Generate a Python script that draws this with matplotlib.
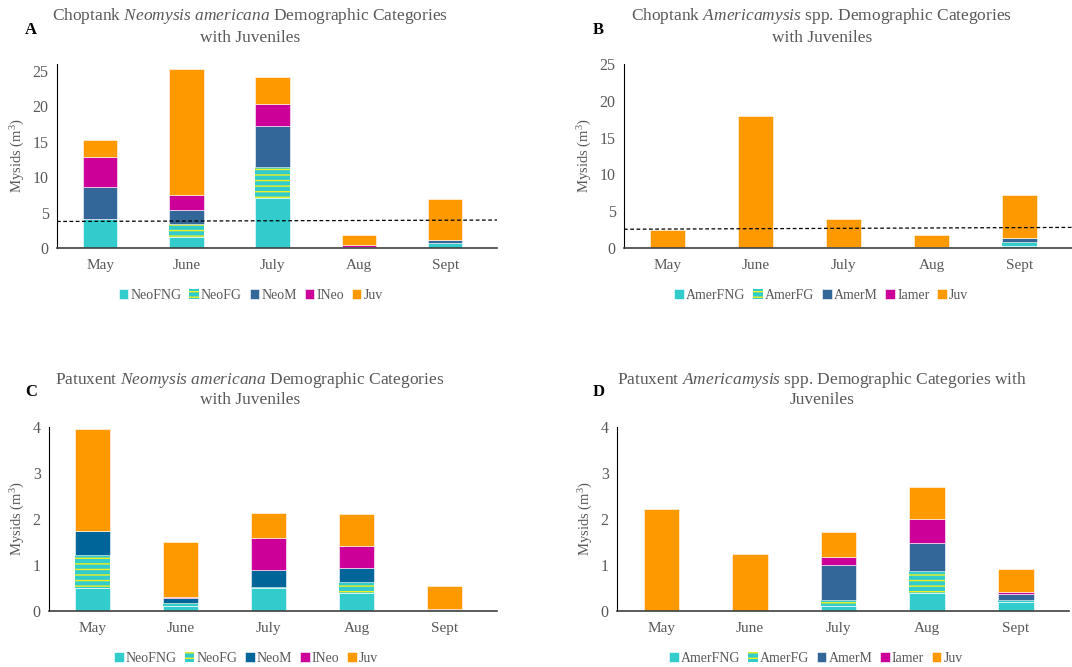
import numpy as np
import matplotlib
matplotlib.use("Agg")
import matplotlib.pyplot as plt

plt.rcParams['font.family'] = ['Liberation Serif', 'DejaVu Serif']
plt.rcParams['mathtext.fontset'] = 'custom'
plt.rcParams['mathtext.rm'] = 'Liberation Serif'
plt.rcParams['mathtext.it'] = 'Liberation Serif:italic'
plt.rcParams['hatch.linewidth'] = 1.0

months = ['May', 'June', 'July', 'Aug', 'Sept']

# A: Choptank Neomysis americana
neo_fng_chop = [4.1, 1.5, 7.1, 0.05, 0.65]
neo_fg_chop = [0.0, 1.9, 4.3, 0.0, 0.05]
neo_m_chop = [4.5, 2.0, 5.9, 0.1, 0.5]
ineo_chop = [4.2, 2.1, 3.1, 0.25, 0.0]
juv_chop_neo = [2.4, 17.8, 3.8, 1.45, 5.7]
dash_chop_neo = [3.75, 3.95]

# B: Choptank Americamysis spp.
amer_fng_chop = [0.0, 0.0, 0.0, 0.0, 0.25]
amer_fg_chop = [0.0, 0.0, 0.0, 0.0, 0.5]
amer_m_chop = [0.0, 0.0, 0.0, 0.12, 0.63]
iamer_chop = [0.0, 0.0, 0.15, 0.0, 0.0]
juv_chop_amer = [2.4, 17.9, 3.85, 1.65, 5.78]
dash_chop_amer = [2.55, 2.8]

# C: Patuxent Neomysis americana
neo_fng_pat = [0.49, 0.1, 0.5, 0.4, 0.02]
neo_fg_pat = [0.72, 0.07, 0.02, 0.23, 0.0]
neo_m_pat = [0.53, 0.11, 0.38, 0.31, 0.01]
ineo_pat = [0.0, 0.02, 0.68, 0.47, 0.01]
juv_pat_neo = [2.22, 1.21, 0.54, 0.7, 0.5]

# D: Patuxent Americamysis spp.
amer_fng_pat = [0.0, 0.0, 0.1, 0.4, 0.2]
amer_fg_pat = [0.0, 0.0, 0.15, 0.46, 0.03]
amer_m_pat = [0.0, 0.0, 0.74, 0.62, 0.15]
iamer_pat = [0.0, 0.0, 0.18, 0.51, 0.03]
juv_pat_amer = [2.22, 1.23, 0.55, 0.7, 0.51]

neo_labels = ['NeoFNG', 'NeoFG', 'NeoM', 'INeo', 'Juv']
amer_labels = ['AmerFNG', 'AmerFG', 'AmerM', 'Iamer', 'Juv']

CYAN = '#33CCCC'
STRIPE = '#F0F020'
MAG = '#CC0099'
ORANGE = '#FF9900'
GRAY = '#595959'

W, H = 1072, 667


def draw_panel(fig, rect, series, labels, mcolor, ylim, yticks, title, letter,
               title_x, letter_pos, dash=None):
    l, t, w, h = rect
    ax = fig.add_axes([l / W, 1 - (t + h) / H, w / W, h / H])
    x = np.arange(len(months))
    colors = [CYAN, CYAN, mcolor, MAG, ORANGE]
    bottom = np.zeros(len(months))
    for i, (vals, lab, c) in enumerate(zip(series, labels, colors)):
        vals = np.array(vals)
        if i == 1:
            ax.bar(x, vals, 0.4, bottom=bottom, color=c, hatch='---',
                   edgecolor=STRIPE, linewidth=0, label=lab)
        else:
            ax.bar(x, vals, 0.4, bottom=bottom, color=c, edgecolor='white',
                   linewidth=0.4, label=lab)
        bottom += vals
    if dash is not None:
        ax.plot([-0.5, 4.6], dash, color='black', ls=(0, (3, 2)), lw=0.9)
    ax.set_xlim(-0.5, 4.6)
    ax.set_ylim(*ylim)
    ax.set_yticks(yticks)
    ax.set_xticks(x)
    ax.set_xticklabels(months)
    ax.tick_params(length=0, labelsize=11, labelcolor=GRAY, pad=8)
    ax.tick_params(axis='y', labelsize=11.5, pad=6)
    for s in ['top', 'right']:
        ax.spines[s].set_visible(False)
    ax.spines['left'].set_color('black')
    ax.spines['left'].set_linewidth(0.8)
    ax.spines['bottom'].set_color('#404040')
    ax.spines['bottom'].set_linewidth(1.2)
    ax.set_ylabel(r'Mysids (m$^3$)', fontsize=10.5, color=GRAY, labelpad=4)
    ax.legend(loc='upper center', bbox_to_anchor=(0.44, -0.155), ncol=5,
              frameon=False, fontsize=10, handlelength=0.7, handleheight=0.7,
              columnspacing=0.55, handletextpad=0.15, labelcolor=GRAY)
    fig.text(title_x / W, 1 - 26 / H - (t - 64) / H, title, ha='center',
             va='center', fontsize=12.5, color=GRAY, linespacing=1.25)
    fig.text(letter_pos[0] / W, 1 - letter_pos[1] / H, letter, fontsize=12,
             fontweight='bold', color='black', ha='left', va='center')
    return ax


fig = plt.figure(figsize=(W / 100, H / 100), dpi=100)

draw_panel(fig, (57, 64, 440, 184),
           [neo_fng_chop, neo_fg_chop, neo_m_chop, ineo_chop, juv_chop_neo],
           neo_labels, '#336699', (0, 26), [0, 5, 10, 15, 20, 25],
           'Choptank $\\mathit{Neomysis\\ americana}$ Demographic Categories\nwith Juveniles',
           'A', 250, (25, 30), dash_chop_neo)

draw_panel(fig, (624, 64, 448, 184),
           [amer_fng_chop, amer_fg_chop, amer_m_chop, iamer_chop, juv_chop_amer],
           amer_labels, '#336699', (0, 25), [0, 5, 10, 15, 20, 25],
           'Choptank $\\mathit{Americamysis}$ spp. Demographic Categories\nwith Juveniles',
           'B', 822, (593, 30), dash_chop_amer)

draw_panel(fig, (49, 427, 448, 184),
           [neo_fng_pat, neo_fg_pat, neo_m_pat, ineo_pat, juv_pat_neo],
           neo_labels, '#006699', (0, 4), [0, 1, 2, 3, 4],
           'Patuxent $\\mathit{Neomysis\\ americana}$ Demographic Categories\nwith Juveniles',
           'C', 250, (25, 392))

draw_panel(fig, (617, 427, 452, 184),
           [amer_fng_pat, amer_fg_pat, amer_m_pat, iamer_pat, juv_pat_amer],
           amer_labels, '#336699', (0, 4), [0, 1, 2, 3, 4],
           'Patuxent $\\mathit{Americamysis}$ spp. Demographic Categories with\nJuveniles',
           'D', 822, (593, 392))

fig.savefig('out.png', dpi=100)
